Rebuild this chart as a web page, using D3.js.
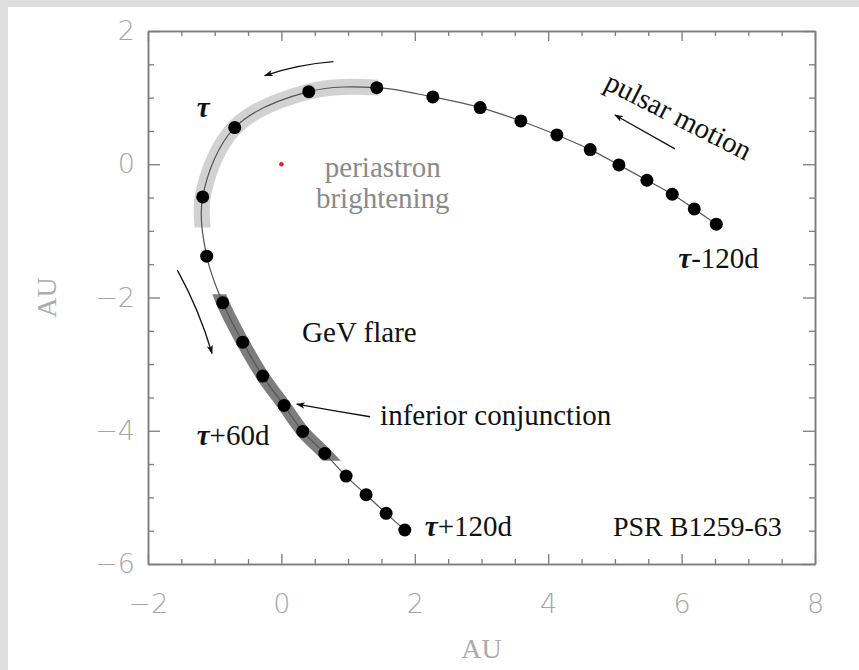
<!DOCTYPE html>
<html>
<head>
<meta charset="utf-8">
<script src="https://cdn.jsdelivr.net/npm/d3@7"></script>
<style>
  html, body { margin: 0; padding: 0; background: #ffffff; }
  svg { display: block; }
</style>
</head>
<body>
<svg id="chart" width="859" height="670"></svg>
<script>
// Orbit of PSR B1259-63 around its Be star (AU), one dot per sampling step
const orbitX = [6.52, 6.19, 5.86, 5.48, 5.06, 4.63, 4.13, 3.59, 2.98, 2.27, 1.43, 0.41,
                -0.70, -1.18, -1.12, -0.88, -0.58, -0.28, 0.04, 0.32, 0.65, 0.97, 1.27, 1.57, 1.85];
const orbitY = [-0.90, -0.67, -0.45, -0.24, -0.01, 0.22, 0.44, 0.65, 0.85, 1.01, 1.15, 1.09,
                0.55, -0.49, -1.38, -2.08, -2.67, -3.18, -3.62, -4.01, -4.34, -4.68, -4.96, -5.24, -5.49];

// Highlighted stretches of the orbit: start/end dot index and visible window (AU)
const bandNames  = ["periastron brightening", "GeV flare"];
const bandStart  = [9, 14];
const bandEnd    = [14, 21];
const bandXRange = [[-2, 1.45], [-2, 8]];
const bandYRange = [[-0.95, 2], [-4.45, -1.95]];

// Star position
const starX = [0];
const starY = [0];

// Axis ticks
const xMajorTicks = [-2, 0, 2, 4, 6, 8];
const yMajorTicks = [-6, -4, -2, 0, 2];
const axisTitle = "AU";

// Text annotations (anchor in AU)
const noteText   = ["periastron", "brightening", "GeV flare", "inferior conjunction", "PSR B1259-63"];
const noteX      = [1.52, 1.52, 0.31, 1.48, 4.97];
const noteY      = [-0.19, -0.66, -2.67, -3.91, -5.58];
const tauLabel   = ["", "-120d", "+60d", "+120d"];
const tauX       = [-1.27, 5.95, -1.27, 2.15];
const tauY       = [0.71, -1.56, -4.22, -5.58];
const motionText = "pulsar motion";
const motionX    = 5.95, motionY = 0.72;

// Arrows: tail -> head (AU), with a control point for the bend
const arrowTail = [[0.78, 1.54], [5.90, 0.23], [-1.56, -1.59], [1.33, -3.79]];
const arrowCtrl = [[0.25, 1.50], [5.45, 0.485], [-1.23, -2.19], [0.78, -3.70]];
const arrowHead = [[-0.25, 1.33], [5.00, 0.74], [-1.04, -2.84], [0.23, -3.60]];

const W = 859, H = 670;
const svg = d3.select("#chart");

// page frame
svg.append("rect").attr("width", W).attr("height", H).attr("fill", "#ffffff");
svg.append("rect").attr("x", 0).attr("y", 0).attr("width", W).attr("height", 7).attr("fill", "#dedede");
svg.append("rect").attr("x", 0).attr("y", 0).attr("width", 8).attr("height", H).attr("fill", "#dedede");

const x = d3.scaleLinear().domain([-2, 8]).range([148, 815]);
const y = d3.scaleLinear().domain([-6, 2]).range([564, 31]);

const axisColor = "#7c7c7c";
const tickFont = "'DejaVu Sans', sans-serif";
const serif = "'Liberation Serif', 'Times New Roman', serif";

const minorX = d3.range(-2, 8.001, 0.5).filter(v => !xMajorTicks.includes(v));
const minorY = d3.range(-6, 2.001, 0.5).filter(v => !yMajorTicks.includes(v));

function styleAxis(g) {
  g.selectAll("path.domain").attr("stroke", axisColor).attr("stroke-width", 1.5);
  g.selectAll(".tick line").attr("stroke", axisColor).attr("stroke-width", 1.3);
  g.selectAll(".tick text")
    .attr("fill", "#a6a6a6")
    .attr("font-family", tickFont)
    .attr("font-weight", 200)
    .attr("font-size", 27);
}

const fmt = d3.format("d");

// bottom
svg.append("g").attr("transform", `translate(0,${y(-6)})`)
  .call(d3.axisBottom(x).tickValues(xMajorTicks).tickSize(-10).tickSizeOuter(0).tickPadding(30).tickFormat(fmt))
  .call(styleAxis);
svg.append("g").attr("transform", `translate(0,${y(-6)})`)
  .call(d3.axisBottom(x).tickValues(minorX).tickSize(-5).tickSizeOuter(0).tickFormat(""))
  .call(styleAxis);
// top
svg.append("g").attr("transform", `translate(0,${y(2)})`)
  .call(d3.axisTop(x).tickValues(xMajorTicks).tickSize(-10).tickSizeOuter(0).tickFormat(""))
  .call(styleAxis);
svg.append("g").attr("transform", `translate(0,${y(2)})`)
  .call(d3.axisTop(x).tickValues(minorX).tickSize(-5).tickSizeOuter(0).tickFormat(""))
  .call(styleAxis);
// left
svg.append("g").attr("transform", `translate(${x(-2)},0)`)
  .call(d3.axisLeft(y).tickValues(yMajorTicks).tickSize(-12).tickSizeOuter(0).tickPadding(13).tickFormat(fmt))
  .call(styleAxis);
svg.append("g").attr("transform", `translate(${x(-2)},0)`)
  .call(d3.axisLeft(y).tickValues(minorY).tickSize(-6).tickSizeOuter(0).tickFormat(""))
  .call(styleAxis);
// right
svg.append("g").attr("transform", `translate(${x(8)},0)`)
  .call(d3.axisRight(y).tickValues(yMajorTicks).tickSize(-12).tickSizeOuter(0).tickFormat(""))
  .call(styleAxis);
svg.append("g").attr("transform", `translate(${x(8)},0)`)
  .call(d3.axisRight(y).tickValues(minorY).tickSize(-6).tickSizeOuter(0).tickFormat(""))
  .call(styleAxis);

// axis titles
svg.append("text")
  .attr("x", (x(-2) + x(8)) / 2).attr("y", 658)
  .attr("text-anchor", "middle")
  .attr("font-family", serif).attr("font-size", 28).attr("fill", "#acacac")
  .text(axisTitle);
svg.append("text")
  .attr("transform", `translate(56,${(y(-6) + y(2)) / 2 + 0}) rotate(-90)`)
  .attr("text-anchor", "middle")
  .attr("font-family", serif).attr("font-size", 28).attr("fill", "#acacac")
  .text(axisTitle);

// orbit data as points
const pts = orbitX.map((v, i) => [v, orbitY[i]]);
const line = d3.line().x(d => x(d[0])).y(d => y(d[1])).curve(d3.curveCatmullRom.alpha(0.5));

// highlighted bands
const defs = svg.append("defs");
const bandColor = ["#d2d2d2", "#7d7d7d"];
const bandWidth = [16, 13];
bandNames.forEach((name, k) => {
  const id = "band-clip-" + k;
  defs.append("clipPath").attr("id", id)
    .append("rect")
    .attr("x", x(bandXRange[k][0])).attr("y", y(bandYRange[k][1]))
    .attr("width", x(bandXRange[k][1]) - x(bandXRange[k][0]))
    .attr("height", y(bandYRange[k][0]) - y(bandYRange[k][1]));
  svg.append("path")
    .datum(pts.slice(bandStart[k], bandEnd[k] + 1))
    .attr("d", line)
    .attr("clip-path", `url(#${id})`)
    .attr("fill", "none")
    .attr("stroke", bandColor[k])
    .attr("stroke-width", bandWidth[k])
    .attr("stroke-linecap", "butt");
});

// orbit line
svg.append("path").datum(pts).attr("d", line)
  .attr("fill", "none").attr("stroke", "#555555").attr("stroke-width", 1.2);

// dots
svg.append("g").selectAll("circle").data(pts).join("circle")
  .attr("cx", d => x(d[0])).attr("cy", d => y(d[1])).attr("r", 6.5)
  .attr("fill", "#000000");

// star
svg.append("circle").attr("cx", x(starX[0])).attr("cy", y(starY[0])).attr("r", 2.3).attr("fill", "#e8202a");

// arrows
defs.append("marker").attr("id", "arrowhead")
  .attr("viewBox", "0 0 10 10").attr("refX", 9).attr("refY", 5)
  .attr("markerWidth", 9).attr("markerHeight", 9).attr("markerUnits", "userSpaceOnUse")
  .attr("orient", "auto")
  .append("path").attr("d", "M0,1.5 L10,5 L0,8.5 L2.5,5 Z").attr("fill", "#111111");
arrowTail.forEach((t, i) => {
  const c = arrowCtrl[i], h = arrowHead[i];
  svg.append("path")
    .attr("d", `M${x(t[0])},${y(t[1])} Q${x(c[0])},${y(c[1])} ${x(h[0])},${y(h[1])}`)
    .attr("fill", "none").attr("stroke", "#111111").attr("stroke-width", 1.3)
    .attr("marker-end", "url(#arrowhead)");
});

// annotations
noteText.forEach((t, i) => {
  const grey = i < 2;
  svg.append("text")
    .attr("x", x(noteX[i])).attr("y", y(noteY[i]))
    .attr("text-anchor", grey ? "middle" : "start")
    .attr("font-family", serif)
    .attr("font-size", i === 4 ? 28 : 29)
    .attr("fill", grey ? "#8a8a8a" : "#111111")
    .text(t);
});

tauLabel.forEach((t, i) => {
  const txt = svg.append("text")
    .attr("x", x(tauX[i])).attr("y", y(tauY[i]))
    .attr("font-family", serif).attr("font-size", 29).attr("fill", "#111111");
  txt.append("tspan").attr("font-weight", "bold").attr("font-style", "italic").text("τ");
  txt.append("tspan").text(t);
});

svg.append("text")
  .attr("transform", `translate(${x(motionX)},${y(motionY)}) rotate(27)`)
  .attr("text-anchor", "middle").attr("dy", "0.32em")
  .attr("font-family", serif).attr("font-size", 29).attr("fill", "#111111")
  .text(motionText);
</script>
</body>
</html>
